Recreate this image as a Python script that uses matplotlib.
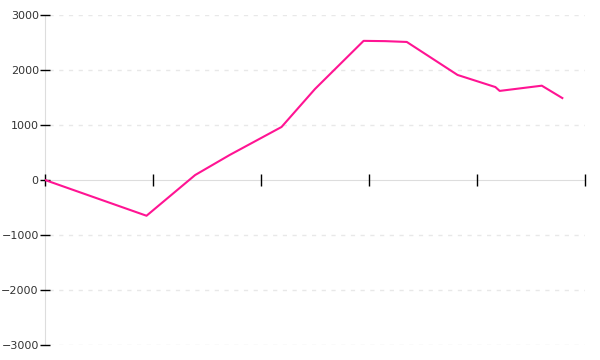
import matplotlib
matplotlib.use('Agg')
import matplotlib.pyplot as plt

# x in arbitrary units (ticks every 100), y values
x_vals = [0, 94, 139, 171, 219, 250, 295, 315, 335, 382, 417, 421, 460, 479]
y_vals = [0, -650, 90, 455, 964, 1655, 2530, 2525, 2510, 1910, 1690, 1620, 1715, 1490]

y_ticks = [-3000, -2000, -1000, 0, 1000, 2000, 3000]
x_ticks = [0, 100, 200, 300, 400, 500]

line_color = '#ff1493'
axis_color = '#dddddd'

fig = plt.figure(figsize=(6, 3.6), dpi=100)
ax = fig.add_axes([0.075, 0.0417, 0.9, 0.9166])

ax.plot(x_vals, y_vals, color=line_color, linewidth=1.5, zorder=3)

ax.set_xlim(0, 500)
ax.set_ylim(-3000, 3000)

# horizontal dotted grid
for yv in y_ticks:
    if yv != 0:
        ax.axhline(yv, xmin=0.008, color='#e8e8e8', linewidth=1,
                   linestyle=(0, (3, 4)), zorder=1)

for side in ['top', 'right']:
    ax.spines[side].set_visible(False)
for side in ['left', 'bottom']:
    ax.spines[side].set_color(axis_color)
    ax.spines[side].set_zorder(1)
ax.spines['bottom'].set_position(('data', 0))

ax.set_yticks(y_ticks)
ax.set_yticklabels([str(v).replace('-', '\u2212') for v in y_ticks])
ax.set_xticks(x_ticks)
ax.set_xticklabels([])

ax.tick_params(axis='y', direction='inout', length=7, width=1, color='black',
               labelsize=8, labelcolor='#333333', pad=1)
ax.tick_params(axis='x', direction='inout', length=8, width=1, color='black')
for t in ax.xaxis.get_major_ticks():
    t.tick1line.set_zorder(4)
    t.tick1line.set_clip_on(False)

fig.savefig('out.png', dpi=100)
